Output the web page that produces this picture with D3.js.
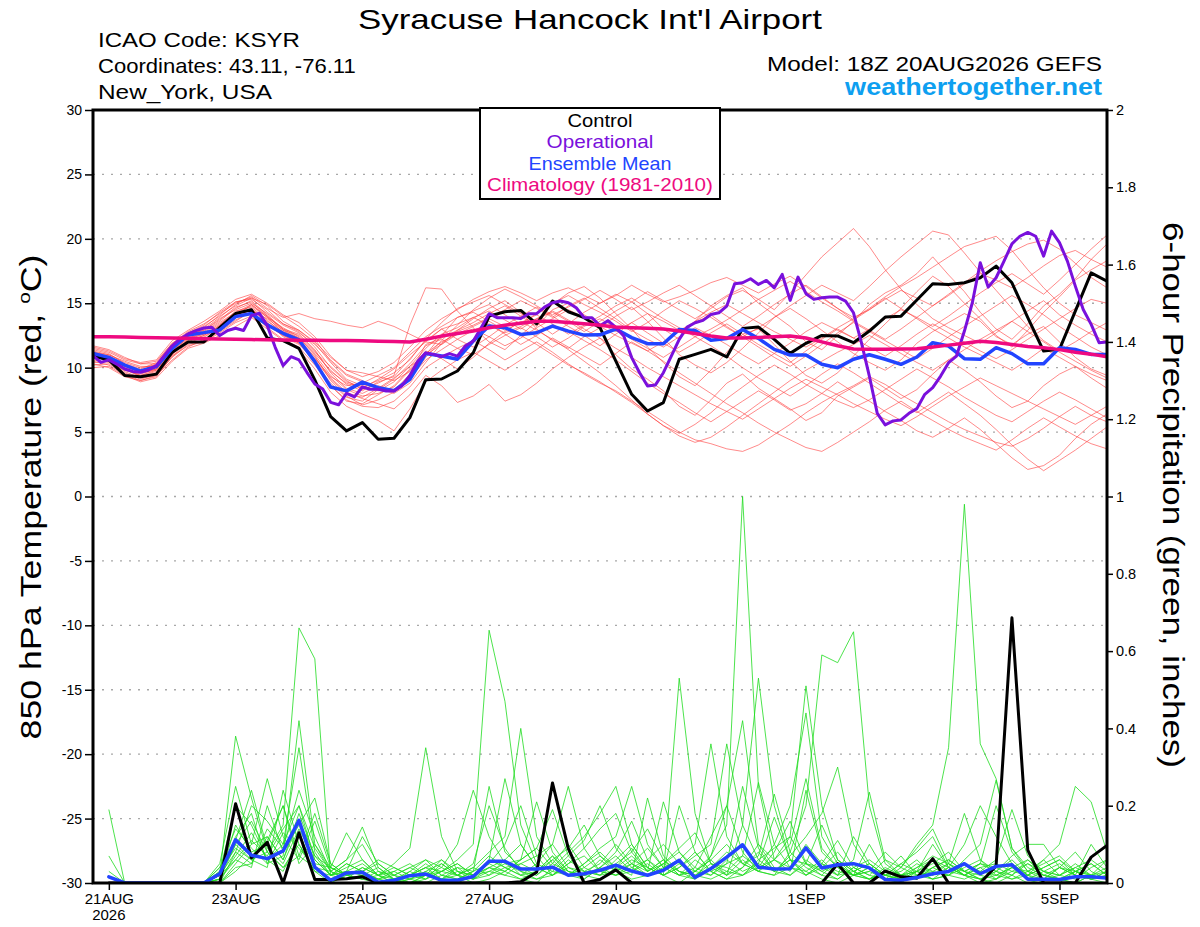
<!DOCTYPE html>
<html><head><meta charset="utf-8">
<script src="https://cdn.jsdelivr.net/npm/d3@7"></script>
<style>
body{margin:0;background:#fff}
svg{display:block}
text{font-family:"Liberation Sans",Arial,Helvetica,sans-serif}
</style>
</head><body>
<svg id="chart" width="1200" height="927"></svg>
<script>
// ---------------- DATA ----------------
const runStartUTC = Date.UTC(2026, 7, 20, 18); // 18Z 20AUG2026
const xTickDates = ["2026-08-21","2026-08-23","2026-08-25","2026-08-27","2026-08-29","2026-09-01","2026-09-03","2026-09-05"];
const xTickLabels = ["21AUG","23AUG","25AUG","27AUG","29AUG","1SEP","3SEP","5SEP"];
const tempTicks = [-30,-25,-20,-15,-10,-5,0,5,10,15,20,25,30];
const precipTicks = [0,0.2,0.4,0.6,0.8,1,1.2,1.4,1.6,1.8,2];
const precipTickLabels = ["0","0.2","0.4","0.6","0.8","1","1.2","1.4","1.6","1.8","2"];

// 850 hPa temperature, 6-hourly from 18Z 20AUG (65 values)
const controlTemp = [10.9,10.6,9.4,9.3,9.5,11.2,12.0,12.0, 13.1,14.2,14.5,12.3,12.1,11.5,9.05,6.2,
  5.1,5.74,4.44,4.52,6.12,9.07,9.12,9.74, 11.16,14.0,14.34,14.44,13.4,15.17,14.34,13.88,
  13.1,10.5,7.93,6.64,7.29,10.65,11.03,11.42, 10.83,13.05,13.15,12.2,11.11,11.89,12.5,12.46,
  11.94,12.84,13.93,14.0,15.25,16.51,16.46,16.59, 16.98,17.88,16.59,13.88,11.29,11.42,14.39,17.36,16.72];
const meanTemp = [11.1,10.8,10.2,9.74,10.08,11.5,12.54,12.72, 12.93,13.96,14.2,13.32,12.67,12.15,10.47,8.5,
  8.2,8.88,8.45,8.22,9.1,11.1,10.9,10.66, 12.07,13.23,13.1,12.58,12.71,13.23,12.84,12.53,
  12.55,13.0,12.33,11.86,11.86,12.97,12.89,12.12, 12.27,12.97,12.27,11.42,10.98,10.98,10.26,10.0,
  10.65,11.0,10.65,10.26,10.83,11.94,11.68,10.7, 10.65,11.55,11.09,10.31,10.31,11.55,11.42,11.03,11.03];
const climoTemp = [12.4,12.4,12.38,12.35,12.33,12.3,12.28,12.25, 12.22,12.2,12.18,12.16,12.15,12.13,12.12,12.1,
  12.1,12.08,12.05,12.03,12.0,12.2,12.45,12.65, 12.85,13.1,13.3,13.45,13.6,13.6,13.5,13.4,
  13.3,13.15,13.1,13.05,13.0,12.85,12.65,12.45, 12.3,12.3,12.35,12.4,12.45,12.3,12.0,11.7,
  11.45,11.42,11.42,11.44,11.47,11.6,11.75,11.9, 12.05,11.95,11.8,11.65,11.55,11.4,11.2,11.05,10.85];
// operational run, 3-hourly (129 values)
const operationalTemp = [10.93,10.41,10.6,10.28,9.9,9.71,9.64,9.82, 10.16,10.93,11.7,12.23,12.62,12.88,13.08,13.13,
  12.49,12.88,13.06,12.88,14.04,14.22,13.26,11.58, 10.16,10.85,10.6,9.64,8.73,8.34,7.31,7.12,
  8.0,7.73,8.5,8.32,8.32,8.19,8.19,8.6, 9.4,10.5,11.15,11.03,10.85,11.09,10.9,11.68,
  12.07,13.1,14.19,13.88,13.88,13.88,13.82,14.19, 14.19,14.7,15.04,15.17,15.04,14.65,13.88,13.88,
  13.25,13.65,13.12,12.45,10.78,9.61,8.58,8.66, 9.61,10.9,12.2,13.15,13.49,13.67,14.13,14.26,
  14.78,16.51,16.59,16.9,16.46,16.77,16.2,17.24, 15.22,17.03,15.74,15.3,15.43,15.48,15.48,15.17,
  14.26,11.94,9.35,6.45,5.56,5.87,5.94,6.46, 6.82,7.93,8.45,9.35,10.39,10.9,12.84,15.04,
  18.14,16.25,16.98,18.27,19.61,20.2,20.5,20.2, 18.66,20.6,19.7,18.27,16.33,14.52,13.36,11.94,12.0];

// ensemble member temperatures (65 values each)
const tempMember01 = [11.2,10.9,10.2,9.6,9.9,11.4,12.4,12.8, 13.6,14.6,15.2,14.1,13.0,12.6,11.4,9.6, 8.4,8.0,8.6,8.2,9.5,11.8,12.3,12.9, 13.5,14.2,14.8,14.0,13.2,14.5,15.0,14.1, 13.4,12.8,13.5,14.2,13.0,12.2,13.6,14.8, 15.6,16.2,15.0,14.1,13.2,12.0,11.4,12.5, 13.6,14.9,15.8,16.4,17.3,18.6,17.2,15.9, 14.3,13.0,12.2,13.4,14.8,15.7,16.9,18.4,19.6];
const tempMember02 = [11.5,11.2,10.6,10.3,10.5,11.9,12.8,13.4, 14.2,15.0,15.5,14.6,13.9,14.2,13.8,13.6, 13.3,13.1,13.6,13.2,12.6,12.0,11.8,12.9, 13.8,14.6,15.2,14.3,13.0,12.1,11.5,12.4, 13.1,14.0,14.7,13.6,12.3,11.0,10.2,9.6, 10.4,11.5,12.7,13.9,14.6,13.8,12.9,12.0, 11.1,10.4,9.8,10.6,11.9,12.8,13.5,14.2, 13.6,12.4,11.8,12.6,13.2,12.0,10.8,9.9,9.4];
const tempMember03 = [10.6,10.4,9.8,9.4,9.7,11.0,12.2,12.6, 13.4,14.2,14.8,13.9,13.1,12.4,11.2,10.1, 9.0,8.3,8.8,9.4,13.3,16.2,16.1,14.4, 13.1,12.0,11.4,12.5,13.6,14.9,15.8,16.3, 15.4,14.2,13.0,11.6,10.4,9.3,8.6,9.8, 11.2,12.6,13.0,11.8,10.5,9.4,8.8,9.6, 10.9,12.2,13.4,14.6,15.9,17.1,16.3,15.0, 13.8,12.5,11.6,12.9,14.3,15.5,16.8,17.6,18.3];
const tempMember04 = [10.2,10.3,9.6,9.1,9.5,10.8,11.8,12.1, 12.8,13.6,14.4,13.8,12.9,12.2,10.8,9.2, 8.1,7.6,7.2,6.8,7.9,9.4,8.6,7.3, 7.8,8.7,7.4,7.9,8.8,9.9,10.8,11.6, 12.3,11.0,9.9,9.1,8.2,7.0,6.3,7.5, 8.8,9.5,8.4,7.6,6.8,5.9,6.5,7.8, 8.5,9.2,8.4,7.6,8.3,9.5,10.6,9.8, 8.9,7.8,6.9,7.4,8.6,9.5,10.1,9.2,8.4];
const tempMember05 = [11.0,10.8,10.0,9.7,10.0,11.6,12.5,13.0, 13.9,14.9,15.6,14.8,13.6,12.9,11.9,10.4, 9.1,8.6,8.2,8.9,10.1,11.5,12.6,13.1, 13.9,14.4,13.7,13.0,13.8,14.3,13.6,12.8, 13.6,14.4,15.1,15.9,15.2,14.5,13.8,14.6, 15.5,16.0,15.3,14.5,15.8,17.2,18.6,19.7, 20.8,19.4,17.6,16.1,14.9,13.8,13.1,12.5, 11.9,12.7,13.6,14.4,15.2,14.1,13.3,12.6,12.0];
const tempMember06 = [10.8,10.6,9.9,9.3,9.6,11.1,12.0,12.5, 13.2,14.0,14.6,13.4,12.5,12.0,10.9,9.0, 7.8,7.1,7.5,8.1,9.2,10.6,11.4,12.2, 12.9,13.4,12.6,11.8,12.5,13.3,12.8,12.1, 11.4,10.6,9.7,8.8,8.0,7.3,6.5,5.8, 6.6,7.4,8.2,7.5,6.7,7.2,8.0,8.9, 8.1,7.4,6.6,5.9,5.1,4.6,5.3,6.1, 5.2,4.1,3.0,2.1,2.4,3.2,4.5,5.6,6.4];
const tempMember07 = [11.3,11.0,10.4,10.0,10.2,11.7,12.7,13.2, 14.0,14.8,15.4,14.3,13.4,12.8,11.6,10.0, 8.9,8.5,9.0,9.6,10.6,12.2,13.5,14.6, 15.1,15.6,14.9,14.2,13.5,12.6,13.4,14.3, 15.0,15.7,15.1,14.2,13.6,12.9,13.5,14.1, 13.2,12.4,13.1,13.9,14.8,15.6,16.4,15.8, 15.2,16.3,17.5,18.6,19.6,20.6,20.3,18.9, 17.4,16.0,14.6,13.2,12.1,11.3,12.0,12.8,13.5];
const tempMember08 = [10.4,10.5,9.7,9.2,9.4,10.6,11.6,12.2, 12.9,13.7,14.3,13.1,12.2,11.6,10.2,8.6, 7.5,7.0,6.9,7.4,8.5,10.0,10.8,11.5, 12.1,11.4,10.6,11.3,12.0,11.2,10.3,9.5, 8.8,8.2,7.4,6.6,5.8,5.0,4.4,4.1, 3.7,3.5,4.0,4.8,5.6,6.5,7.3,8.0, 8.6,9.3,8.7,7.9,7.2,6.5,5.8,5.2, 4.7,4.2,3.9,4.5,5.3,6.2,7.0,6.3,5.8];
const tempMember09 = [11.1,10.7,10.1,9.8,10.3,11.8,12.6,12.9, 13.8,14.5,15.0,14.2,13.3,12.7,11.8,10.6, 9.5,9.0,8.4,8.0,8.8,10.4,11.9,12.8, 13.3,13.9,14.5,15.2,14.6,13.9,14.8,15.4, 14.6,13.8,12.9,12.2,11.6,12.4,13.1,12.5, 11.8,11.0,10.3,11.1,11.9,12.8,13.5,12.9, 12.3,13.0,13.8,14.5,13.9,13.2,14.0,14.9, 15.8,16.6,17.3,16.5,15.7,16.8,18.0,19.2,20.3];
const tempMember10 = [10.5,10.2,9.5,9.0,9.3,10.9,11.9,12.4, 13.1,13.9,14.5,13.6,12.8,12.3,11.0,9.4, 8.3,7.8,8.0,8.5,9.8,11.1,12.0,12.6, 13.0,12.4,11.7,12.3,13.1,13.8,14.5,13.9, 13.2,12.5,11.9,11.3,12.0,12.8,13.6,14.3, 14.9,14.2,13.5,12.8,12.2,11.6,12.3,13.1, 13.8,14.6,15.5,16.3,17.0,17.8,18.6,19.4, 19.8,20.2,19.1,17.6,16.2,15.0,14.1,13.5,12.9];
const tempMember11 = [10.9,10.5,9.8,9.5,9.9,11.3,12.3,12.7, 13.5,14.3,14.9,13.9,12.7,12.1,10.5,8.6, 7.4,7.2,7.9,8.6,9.9,11.3,10.7,9.9, 10.8,11.9,12.8,13.6,12.9,12.2,11.4,10.5, 9.6,8.6,7.5,6.4,5.5,4.9,5.6,6.5, 7.6,8.5,9.4,10.2,9.5,8.7,8.0,7.4, 6.9,7.5,8.3,9.1,9.9,9.2,8.5,7.7, 7.0,6.3,5.8,6.6,7.4,8.1,7.5,6.8,6.1];
const tempMember12 = [11.6,11.3,10.7,10.4,10.6,12.1,12.9,13.6, 14.4,15.3,15.7,15.0,14.1,13.5,12.4,10.9, 9.8,9.3,9.7,10.4,11.6,12.9,13.8,14.5, 15.3,15.9,16.3,15.8,15.2,15.8,16.2,15.6, 15.0,15.6,16.4,15.7,15.1,15.5,16.0,16.6, 17.0,16.4,15.8,16.5,17.1,16.3,15.4,14.6, 13.9,14.5,15.3,16.0,15.4,14.8,15.6,16.5, 17.3,16.8,16.2,17.0,17.9,18.7,19.1,18.4,17.8];
const tempMember13 = [10.0,10.1,9.4,8.9,9.2,10.5,11.5,11.9, 12.5,13.2,13.9,13.0,12.1,11.4,9.9,8.1, 7.0,6.4,5.9,5.1,6.8,8.9,9.8,10.6, 11.2,10.5,9.8,10.6,11.4,12.3,11.6,10.9, 10.2,11.1,12.0,11.3,10.5,9.6,8.8,8.0, 7.2,6.5,5.7,5.0,4.4,3.8,3.5,4.2, 5.0,5.8,6.7,7.4,6.6,5.9,5.2,4.6, 4.1,3.6,4.4,5.3,6.1,5.4,4.7,4.1,3.7];
const tempMember14 = [11.4,11.1,10.3,9.9,10.4,11.9,12.6,13.1, 14.1,15.1,15.3,14.5,13.4,12.9,12.0,10.8, 9.8,9.6,9.3,9.0,9.7,11.0,12.5,13.9, 14.4,14.9,14.1,13.4,14.2,15.0,15.6,14.9, 14.3,13.6,12.8,13.5,14.4,15.2,14.6,13.9, 13.1,12.4,11.6,10.8,10.1,10.9,11.8,12.7, 13.5,12.8,12.1,11.4,10.7,11.5,12.4,13.2, 14.0,14.8,15.6,14.9,14.1,13.2,12.4,11.6,11.0];
const tempMember15 = [10.7,10.8,10.2,9.6,9.8,11.2,12.2,12.3, 13.3,14.4,14.7,13.7,12.6,11.9,10.4,8.8, 7.7,7.4,8.3,9.1,10.3,11.7,12.2,11.5, 11.0,11.8,12.5,13.1,12.4,11.6,12.3,13.2, 13.8,13.1,12.2,11.5,10.8,11.6,12.4,11.7, 10.9,10.0,9.2,8.5,7.8,8.6,9.5,10.3, 9.6,8.8,8.0,7.2,6.5,7.3,8.1,7.2, 6.3,5.2,4.0,2.9,2.0,2.8,3.6,4.5,5.4];
const tempMember16 = [11.0,10.6,9.9,9.4,9.8,11.0,12.1,12.5, 13.3,14.1,14.6,13.5,12.4,11.8,10.6,9.1, 8.0,7.7,8.4,9.2,10.1,11.0,11.8,12.6, 13.2,13.8,13.2,12.5,11.8,11.0,10.2,9.6, 8.9,8.1,7.3,6.4,5.5,4.7,4.2,4.6, 5.4,6.3,7.2,8.1,9.0,9.8,10.5,11.2, 11.8,12.5,11.8,11.1,10.4,9.8,10.6,11.4, 12.2,12.9,13.6,12.8,12.0,11.2,10.5,9.8,9.2];
const tempMember17 = [10.3,10.0,9.3,9.0,9.4,10.9,11.7,12.0, 12.7,13.5,14.0,13.3,12.5,11.9,10.7,9.3, 8.6,8.8,9.4,10.0,11.2,12.4,13.2,13.9, 14.3,13.6,12.9,13.5,14.1,13.4,12.6,13.3, 14.0,14.8,15.4,14.6,13.8,13.1,12.4,13.0, 13.7,14.5,15.3,16.0,16.7,15.9,15.1,14.4, 13.6,12.9,12.2,13.0,13.9,14.8,15.7,16.6, 17.5,18.3,19.0,19.6,19.9,19.2,18.1,17.0,16.2];
const tempMember18 = [11.2,11.0,10.5,10.1,10.1,11.5,12.5,12.9, 13.7,14.7,15.1,14.0,13.0,12.3,11.1,9.8, 8.7,8.2,8.9,9.3,10.7,12.1,13.0,13.4, 13.9,13.3,12.7,13.2,13.8,14.4,13.7,13.0, 12.3,11.5,10.8,10.0,9.3,8.6,7.9,7.2, 6.6,6.0,6.8,7.6,8.4,9.1,8.5,7.9, 7.2,6.6,6.0,5.5,6.2,7.0,7.8,8.5, 9.2,8.6,8.0,7.4,6.8,6.2,5.6,6.3,7.0];
const tempMember19 = [10.9,10.9,10.1,9.7,9.9,11.3,12.3,12.6, 13.0,14.0,14.9,14.0,12.9,12.5,11.3,9.7, 8.8,8.4,9.1,9.9,11.0,12.0,13.0,12.2, 11.6,12.4,13.3,14.0,14.7,14.0,13.2,12.5, 11.7,12.6,13.5,12.7,11.9,11.2,11.9,12.7, 13.4,12.6,11.8,11.1,10.4,11.3,12.2,13.0, 12.3,11.6,10.9,11.7,12.6,13.4,12.7,12.0, 11.3,10.7,11.4,12.2,13.0,13.8,14.6,15.3,15.0];
const tempMember20 = [11.7,11.4,10.8,10.3,10.3,11.8,12.7,13.3, 14.3,15.1,15.4,14.9,14.0,13.2,12.2,10.5, 9.4,8.9,8.5,8.3,9.1,10.8,12.1,13.3, 14.5,15.4,16.1,15.5,14.8,14.1,14.7,15.3, 16.0,15.3,14.5,15.1,15.8,16.4,15.6,14.8, 14.0,13.2,14.0,14.9,15.7,16.4,15.5,14.6, 13.7,14.5,15.4,14.6,13.8,13.0,12.3,11.6, 11.0,10.4,9.8,10.6,11.5,10.8,10.1,9.5,9.0];
const tempMembers = [tempMember01,tempMember02,tempMember03,tempMember04,tempMember05,tempMember06,tempMember07,tempMember08,tempMember09,tempMember10,
  tempMember11,tempMember12,tempMember13,tempMember14,tempMember15,tempMember16,tempMember17,tempMember18,tempMember19,tempMember20];

// 6-hour precipitation (inches), periods ending 00Z 21AUG ... 18Z 5SEP (64 values)
const controlPrecip = [0,0,0,0,0,0,0,0, .205,.065,.105,0,.13,.009,.009,.011, .016,0,0,0,0,0,0,0,
  0,0,.003,.028,.259,.089,0,.009, .034,0,0,0,0,0,0,0, 0,0,0,0,0,0,.05,0,
  0,.031,.016,.013,.063,0,0,0, .044,.686,.085,0,0,0,.067,.097];
const meanPrecip = [.016,0,0,0,0,0,0,.024, .112,.072,.063,.083,.162,.041,.007,.026, .028,.002,.007,.019,.023,.007,.007,.017,
  .056,.056,.036,.036,.041,.02,.024,.033, .046,.031,.02,.033,.059,.014,.037,.067, .099,.041,.036,.037,.091,.039,.047,.05,
  .039,.009,.007,.014,.024,.03,.05,.024, .043,.047,.01,.01,.009,.016,.016,.013];
const precipMember01 = [.19,0,0,0,0,0,0,.02, .38,.22,.08,.04,.1,.03,0,.02, .01,0,0,.02,.04,.01,0,.02, .05,.03,.01,0,.04,.08,.12,.18, .25,.1,.04,.02,0,.03,.06,.02, .15,.53,.2,.06,.03,.01,0,.02, .04,.01,0,.03,.1,.04,.02,0, .01,.05,.02,0,0,.03,.01,0];
const precipMember02 = [.07,0,0,0,0,0,0,.05, .25,.1,.12,.06,.18,.07,.02,.05, .03,.01,0,0,.02,.06,.03,.01, .02,.06,.1,.04,.02,.05,.09,.14, .18,.08,.03,.06,.02,.01,.07,.2, .08,.03,.02,.04,.1,.05,.02,.06, .235,.06,.02,.01,.04,.06,.03,.01, 0,.02,.06,.03,.01,0,.02,.04];
const precipMember03 = [.03,0,0,0,0,0,0,.03, .2,.15,.06,.03,.12,.05,.04,.13, .06,.02,0,.01,.03,.05,.02,0, .01,.03,.06,.09,.04,.02,.05,.09, .12,.25,.1,.04,.02,.06,.03,.01, .04,.1,.06,.03,.24,.08,.04,.02, .01,.03,.07,.02,.01,.04,.02,.05, .03,.07,.1,.1,.04,.02,.01,.03];
const precipMember04 = [0,0,0,0,0,0,0,.01, .15,.08,.1,.2,.07,.04,.03,.06, .145,.04,.01,0,.02,.03,.05,.02, .06,.04,.02,.03,.07,.03,.01,.04, .08,.16,.06,.02,.04,.08,.03,.05, .25,.09,.03,.06,.02,.05,.11,.04, .02,.01,.04,.09,.14,.05,.02,.01, .03,.02,0,.01,.04,.08,.03,.01];
const precipMember05 = [0,0,0,0,0,0,0,.04, .11,.24,.09,.05,.14,.06,.02,.03, .12,.05,.02,.01,0,.02,.04,.01, .03,.02,.05,.07,.1,.04,.02,.06, .03,.05,.09,.04,.02,.03,.06,.1, .05,.07,.23,.08,.04,.02,.06,.03, .01,.04,.02,.03,.05,.08,.03,.02, .01,.04,.06,.02,.01,.03,.05,.02];
const precipMember06 = [0,0,0,0,0,0,0,0, .08,.2,.16,.1,.2,.09,.03,.01, .04,.02,.05,.09,.35,.12,.03,.02, .04,.02,.01,.03,.06,.02,.04,.07, .04,.02,.22,.07,.03,.01,.04,.02, .06,.03,.08,.16,.05,.02,.01,.04, .02,.06,.04,.1,.15,.35,.98,.36, .27,.09,.03,.02,.01,0,.02,.03];
const precipMember07 = [0,0,0,0,0,0,0,.02, .12,.18,.05,.13,.09,.04,.01,.03, .02,.01,0,.03,.06,.04,.1,.24, .12,.05,.03,.01,.02,.06,.03,.02, .05,.08,.14,.06,.03,.02,.05,.04, .02,.06,.09,.12,.51,.2,.06,.03, .05,.02,.01,.03,.06,.04,.1,.2, .12,.05,.02,.04,.06,.02,.01,.02];
const precipMember08 = [0,0,0,0,0,0,0,0, .05,.1,.27,.12,.06,.16,.04,.02, .03,.05,.02,0,.01,.03,.06,.1, .654,.47,.15,.05,.03,.02,.01,.04, .02,.03,.06,.1,.05,.02,.01,.03, .07,.04,.1,.2,.44,.12,.05,.02, .03,.01,.02,.05,.03,.02,.06,.1, .266,.09,.04,.02,.01,.03,.05,.02];
const precipMember09 = [0,0,0,0,0,0,0,.01, .06,.04,.2,.08,.15,.22,.05,.02, .01,.02,.04,.02,.05,.02,.01,.03, .25,.08,.04,.02,.06,.09,.15,.07, .03,.01,.02,.05,.08,.04,.02,.06, .03,.05,.17,.06,.02,.04,.08,.03, .01,.02,.05,.08,.12,.04,.02,.01, .03,.06,.02,.01,.04,.02,.01,.03];
const precipMember10 = [0,0,0,0,0,0,0,.03, .09,.06,.04,.24,.1,.03,.02,.04, .06,.02,0,.01,.03,.01,.02,.05, .2,.09,.03,.02,.05,.1,.04,.02, .06,.1,.04,.02,.53,.18,.05,.02, .04,.08,.03,.06,.05,.15,.06,.02, .04,.02,.01,.03,.02,.05,.03,.01, .02,.04,.03,.05,.07,.03,.01,.02];
const precipMember11 = [0,0,0,0,0,0,0,0, .03,.07,.11,.2,.05,.1,.03,.01, .02,.04,.01,.02,.04,.06,.02,.01, .06,.27,.1,.04,.02,.05,.07,.03, .02,.04,.06,.03,.2,.08,.03,.01, .02,.04,.06,.1,.27,.09,.04,.02, .01,.03,.02,.04,.07,.05,.18,.06, .02,.01,.03,.06,.02,.01,.04,.06];
const precipMember12 = [0,0,0,0,0,0,0,.02, .1,.06,.08,.15,.66,.58,.02,.05, .03,.01,.02,.04,.02,.01,.03,.02, .04,.06,.02,.01,.03,.07,.11,.2, .09,.04,.02,.05,.03,.02,.04,.08, .05,.03,.06,.12,.05,.03,.01,.04, .06,.03,.02,.01,.04,.06,.03,.05, .2,.08,.03,.01,.02,.05,.02,.01];
const precipMember13 = [0,0,0,0,0,0,0,.04, .14,.09,.05,.07,.42,.1,.04,.02, .04,.02,.01,.03,.01,.05,.02,.04, .08,.12,.40,.12,.05,.03,.02,.01, .04,.07,.03,.05,.09,.13,.05,.03, .02,.05,.03,.07,.12,.18,.3,.1, .04,.02,.05,.03,.01,.02,.05,.03, .06,.19,.07,.03,.02,.04,.02,.01];
const precipMember14 = [0,0,0,0,0,0,0,.01, .07,.13,.06,.1,.35,.08,.02,.01, .02,.01,.03,.05,.02,.01,.04,.03, .05,.1,.2,.07,.02,.04,.03,.05, .1,.05,.02,.04,.06,.1,.36,.12, .05,.03,.02,.08,.2,.59,.57,.65, .2,.05,.02,.03,.01,.02,.04,.06, .03,.01,.02,.04,.06,.03,.02,.01];
const precipMember15 = [0,0,0,0,0,0,0,0, .04,.05,.14,.09,.24,.12,.03,.06, .1,.03,.01,.02,.04,.03,.05,.02, .03,.05,.06,.21,.08,.03,.02,.04, .07,.03,.05,.02,.04,.07,.1,.36, .15,.06,.03,.02,.05,.04,.02,.12, .05,.02,.01,.04,.06,.03,.02,.04, .05,.03,.02,.06,.1,.25,.21,.08];
const precipMember16 = [0,0,0,0,0,0,0,.02, .06,.11,.07,.14,.2,.06,.02,.03, .05,.02,.03,.01,.02,.04,.02,.01, .04,.03,.06,.09,.19,.07,.03,.02, .03,.06,.04,.02,.05,.03,.07,.15, 1.0,.25,.06,.04,.02,.05,.03,.02, .1,.03,.01,.02,.04,.02,.01,.03, .02,.04,.01,.03,.05,.02,.1,.04];
const precipMember17 = [0,0,0,0,0,0,0,.01, .1,.16,.08,.04,.07,.18,.05,.02, .01,.03,.02,.04,.06,.02,.01,.03, .07,.04,.02,.05,.1,.25,.09,.03, .02,.05,.03,.06,.02,.04,.12,.2, .42,.1,.04,.02,.06,.03,.05,.02, .03,.08,.04,.02,.03,.05,.02,.04, .01,.03,.05,.02,.04,.03,.02,.06];
const precipMember18 = [0,0,0,0,0,0,0,.02, .08,.05,.12,.06,.16,.07,.04,.02, .03,.06,.04,.02,.01,.03,.02,.04, .02,.04,.05,.03,.07,.02,.05,.08, .04,.09,.03,.21,.08,.03,.02,.05, .07,.26,.1,.04,.03,.06,.02,.03, .05,.02,.03,.06,.02,.04,.03,.05, .04,.02,.05,.03,.02,.04,.06,.03];
const precipMembers = [precipMember01,precipMember02,precipMember03,precipMember04,precipMember05,precipMember06,precipMember07,precipMember08,precipMember09,
  precipMember10,precipMember11,precipMember12,precipMember13,precipMember14,precipMember15,precipMember16,precipMember17,precipMember18];

// ---------------- CHART ----------------
const HOUR = 3600e3;
const L = 93, R = 1107, T = 110, B = 883;
const svg = d3.select("#chart");

const x = d3.scaleUtc().domain([new Date(runStartUTC), new Date(runStartUTC + 384*HOUR)]).range([L, R]);
const yT = d3.scaleLinear().domain([-30, 30]).range([B, T]);
const yP = d3.scaleLinear().domain([0, 2]).range([B, T]);

svg.append("defs").append("clipPath").attr("id","plotclip")
  .append("rect").attr("x",L).attr("y",T-2).attr("width",R-L).attr("height",B-T+2);

// grid
svg.append("g").selectAll("line").data(tempTicks.filter(v => v > -30 && v < 30)).join("line")
  .attr("x1", L).attr("x2", R).attr("y1", d => yT(d)).attr("y2", d => yT(d))
  .attr("stroke", "#a8a8a8").attr("stroke-width", 1.3).attr("stroke-dasharray", "2,7");

const tempLine6 = d3.line().x((d,i) => x(new Date(runStartUTC + i*6*HOUR))).y(d => yT(d));
const tempLine3 = d3.line().x((d,i) => x(new Date(runStartUTC + i*3*HOUR))).y(d => yT(d));
const precipLine = d3.line().x((d,i) => x(new Date(runStartUTC + (i+1)*6*HOUR))).y(d => yP(d));

const plot = svg.append("g").attr("clip-path","url(#plotclip)");
plot.append("g").selectAll("path").data(tempMembers).join("path")
  .attr("d", tempLine6).attr("fill","none").attr("stroke","#ff3a3a").attr("stroke-opacity",0.7).attr("stroke-width",0.85);
plot.append("g").selectAll("path").data(precipMembers).join("path")
  .attr("d", precipLine).attr("fill","none").attr("stroke","#1fdc1f").attr("stroke-width",0.8);

function thick(g, d, gen, color, w) {
  g.append("path").attr("d", gen(d)).attr("fill","none").attr("stroke",color).attr("stroke-width",w)
    .attr("stroke-linejoin","round").attr("stroke-linecap","round");
}
thick(plot, controlPrecip, precipLine, "#000", 3);
thick(plot, meanPrecip, precipLine, "#2244ff", 3.5);
thick(plot, controlTemp, tempLine6, "#000", 3);
thick(plot, meanTemp, tempLine6, "#2244ff", 3.5);
thick(plot, operationalTemp, tempLine3, "#7a10dc", 3);
thick(plot, climoTemp, tempLine6, "#ee0a80", 3.5);

// frame
svg.append("rect").attr("x",L).attr("y",T).attr("width",R-L).attr("height",B-T)
  .attr("fill","none").attr("stroke","#000").attr("stroke-width",3);

// axes
const gL = svg.append("g").attr("transform",`translate(${L},0)`)
  .call(d3.axisLeft(yT).tickValues(tempTicks).tickSize(8).tickPadding(3).tickFormat(d => String(d)));
const gR = svg.append("g").attr("transform",`translate(${R},0)`)
  .call(d3.axisRight(yP).tickValues(precipTicks).tickSize(6).tickPadding(3).tickFormat((d,i) => precipTickLabels[i]));
const gB = svg.append("g").attr("transform",`translate(0,${B})`)
  .call(d3.axisBottom(x).tickValues(xTickDates.map(s => new Date(s + "T00:00:00Z"))).tickSize(7).tickPadding(3)
    .tickFormat((d,i) => xTickLabels[i]));
[gL, gR, gB].forEach(g => {
  g.select(".domain").remove();
  g.selectAll(".tick line").attr("stroke","#000").attr("stroke-width",1.5);
  g.selectAll("text").attr("fill","#000");
});
gL.selectAll("text").attr("font-size",14);
gR.selectAll("text").attr("font-size",14.5);
gB.selectAll("text").attr("font-size",15);
svg.append("text").attr("x", x(new Date(xTickDates[0] + "T00:00:00Z"))).attr("y", 920)
  .attr("text-anchor","middle").attr("font-size",15).text("2026");

// text helper with horizontal fit
function addText(px, py, str, o) {
  const t = svg.append("text").attr("font-size", o.size).attr("text-anchor", o.anchor || "start")
    .attr("fill", o.fill || "#000").attr("font-weight", o.weight || "normal").text(str);
  const base = `translate(${px},${py})` + (o.rotate ? ` rotate(${o.rotate})` : "");
  t.attr("transform", base);
  if (o.width) {
    const w = t.node().getComputedTextLength();
    t.attr("transform", base + ` scale(${o.width / w},1)`);
  }
  return t;
}

addText(590, 29, "Syracuse Hancock Int'l Airport", {size: 28, anchor: "middle", width: 464});
addText(98, 47, "ICAO Code: KSYR", {size: 21, width: 202});
addText(98, 73, "Coordinates: 43.11, -76.11", {size: 21, width: 258});
addText(98, 99, "New_York, USA", {size: 21, width: 174});
addText(1102, 71, "Model: 18Z 20AUG2026 GEFS", {size: 21, anchor: "end", width: 335});
addText(1102, 95, "weathertogether.net", {size: 23, anchor: "end", weight: "bold", fill: "#0e9ff0", width: 257});

// left axis title with superscript o
{
  const base = "translate(41,497) rotate(-90)";
  const t = svg.append("text").attr("font-size", 29).attr("text-anchor","middle").attr("transform", base);
  t.append("tspan").text("850 hPa Temperature (red, ");
  t.append("tspan").attr("font-size", 17).attr("dy", -11).text("o");
  t.append("tspan").attr("dy", 11).text("C)");
  const w = t.node().getComputedTextLength();
  t.attr("transform", base + ` scale(${485 / w},1)`);
}
addText(1163, 495, "6-hour Precipitation (green, inches)", {size: 29, anchor: "middle", rotate: 90, width: 546});

// legend
svg.append("rect").attr("x",480).attr("y",108).attr("width",240).attr("height",91)
  .attr("fill","#fff").attr("stroke","#000").attr("stroke-width",2);
const legendItems = [
  {label: "Control", color: "#000", y: 127, w: 65},
  {label: "Operational", color: "#7a10dc", y: 148, w: 107},
  {label: "Ensemble Mean", color: "#2244ff", y: 170, w: 143},
  {label: "Climatology (1981-2010)", color: "#ee0a80", y: 191, w: 226}
];
legendItems.forEach(d => addText(600, d.y, d.label, {size: 18, anchor: "middle", fill: d.color, width: d.w}));
</script>
</body></html>
